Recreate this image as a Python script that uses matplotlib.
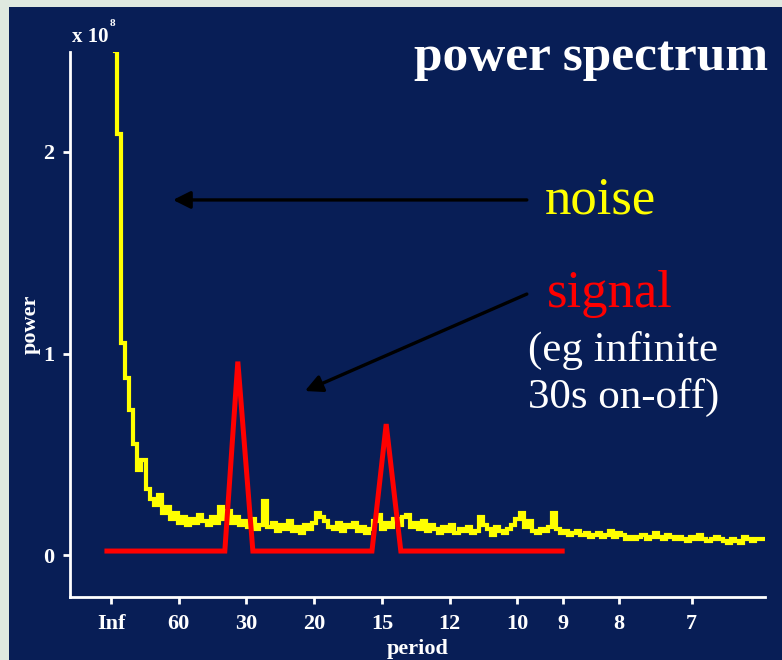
import numpy as np
import matplotlib
matplotlib.use('Agg')
import matplotlib.pyplot as plt
from matplotlib.patches import Rectangle

plt.rcParams['font.family'] = ['Liberation Serif', 'DejaVu Serif']

# noise spectrum, one value per 0.001 Hz (units of 1e8)
noise_power = [
    2.50, 2.09, 1.05, 0.88, 0.72, 0.55, 0.42, 0.47, 0.33, 0.28,
    0.25, 0.30, 0.21, 0.24, 0.18, 0.21, 0.16, 0.19, 0.15, 0.18,
    0.16, 0.20, 0.17, 0.15, 0.19, 0.16, 0.24, 0.18, 0.22, 0.16,
    0.19, 0.15, 0.17, 0.14, 0.18, 0.13, 0.15, 0.27, 0.14, 0.16,
    0.12, 0.15, 0.13, 0.17, 0.12, 0.14, 0.11, 0.15, 0.13, 0.16,
    0.21, 0.19, 0.17, 0.14, 0.13, 0.16, 0.12, 0.15, 0.14, 0.16,
    0.12, 0.14, 0.11, 0.13, 0.17, 0.20, 0.13, 0.16, 0.14, 0.18,
    0.15, 0.19, 0.20, 0.14, 0.16, 0.13, 0.17, 0.12, 0.15, 0.13,
    0.11, 0.14, 0.12, 0.15, 0.11, 0.13, 0.12, 0.14, 0.11, 0.12,
    0.19, 0.15, 0.13, 0.10, 0.14, 0.12, 0.11, 0.13, 0.15, 0.18,
    0.21, 0.14, 0.17, 0.12, 0.11, 0.13, 0.12, 0.14, 0.21, 0.13,
    0.11, 0.12, 0.10, 0.11, 0.12, 0.10, 0.11, 0.09, 0.10, 0.11,
    0.09, 0.10, 0.12, 0.09, 0.11, 0.10, 0.08, 0.09, 0.08, 0.09,
    0.10, 0.08, 0.09, 0.11, 0.09, 0.08, 0.10, 0.09, 0.08, 0.09,
    0.08, 0.07, 0.09, 0.08, 0.10, 0.08, 0.07, 0.08, 0.09, 0.08,
    0.07, 0.06, 0.08, 0.07, 0.06, 0.09, 0.08, 0.07, 0.08, 0.08, 0.08,
]
noise_freq = np.arange(1, len(noise_power) + 1) * 0.001

# idealised signal (blocked design, 30s on-off)
signal_freq = [-0.001, 0.028, 0.0312, 0.0349, 0.0642, 0.0677, 0.0713, 0.111]
signal_power = [0.02, 0.02, 0.96, 0.02, 0.02, 0.65, 0.02, 0.02]

periods = ['Inf', '60', '30', '20', '15', '12', '10', '9', '8', '7']
period_vals = [np.inf, 60, 30, 20, 15, 12, 10, 9, 8, 7]
tick_freq = [1.0 / p for p in period_vals]

W, H = 782, 660
navy = '#081e56'
fig = plt.figure(figsize=(W / 100, H / 100), dpi=100, facecolor='#dfe9e0')
fig.patches.append(Rectangle((9 / W, 0), 1, 1 - 7 / H, transform=fig.transFigure,
                             facecolor=navy, edgecolor='none', zorder=-5))

ax = fig.add_axes([70 / W, 1 - 597 / H, (765 - 70) / W, (597 - 52) / H])
ax.patch.set_visible(False)

ax.plot(noise_freq, noise_power, color='#ffff00', lw=3.0, drawstyle='steps-mid',
        solid_joinstyle='miter')
ax.plot(signal_freq, signal_power, color='#ff0000', lw=3.6, solid_joinstyle='miter')

ax.set_xlim(-0.01009, 0.1609)
ax.set_ylim(-0.208, 2.496)

for s in ['top', 'right']:
    ax.spines[s].set_visible(False)
for s in ['left', 'bottom']:
    ax.spines[s].set_color('white')
    ax.spines[s].set_linewidth(2)

lab = dict(color='white', fontsize=16, fontweight='bold')
ax.set_xticks(tick_freq)
ax.set_xticklabels(periods, **lab)
ax.set_yticks([0, 1, 2])
ax.set_yticklabels(['0', '1', '2'], **lab)
ax.tick_params(axis='x', colors='white', direction='out', length=5, width=2, pad=7)
ax.tick_params(axis='y', colors='white', direction='out', length=5, width=2, pad=6)

ax.set_xlabel('period', labelpad=4, **lab)
ax.set_ylabel('power', labelpad=2, **lab)

# exponent label
fig.text(72 / W, 1 - 42 / H, 'x 10', color='white', fontsize=15, fontweight='bold', va='baseline')
fig.text(110 / W, 1 - 26 / H, '8', color='white', fontsize=8, fontweight='bold', va='baseline')

# annotations
fig.text(414 / W, 1 - 70 / H, 'power spectrum', color='white', fontsize=37,
         fontweight='bold', va='baseline')
fig.text(545 / W, 1 - 213 / H, 'noise', color='#ffff00', fontsize=38, va='baseline')
fig.text(547 / W, 1 - 307 / H, 'signal', color='#ff0000', fontsize=38, va='baseline')
fig.text(528 / W, 1 - 361 / H, '(eg infinite', color='white', fontsize=31, va='baseline')
fig.text(528 / W, 1 - 408 / H, '30s on-off)', color='white', fontsize=31, va='baseline')

arrow = dict(arrowstyle='-|>', mutation_scale=26, lw=2.4, color='black',
             shrinkA=0, shrinkB=0)
ax.annotate('', xy=(0.01525, 1.762), xytext=(0.1023, 1.762), arrowprops=arrow,
            annotation_clip=False)
ax.annotate('', xy=(0.0477, 0.814), xytext=(0.1023, 1.295), arrowprops=arrow,
            annotation_clip=False)

fig.savefig('out.png', dpi=100, facecolor=fig.get_facecolor())
